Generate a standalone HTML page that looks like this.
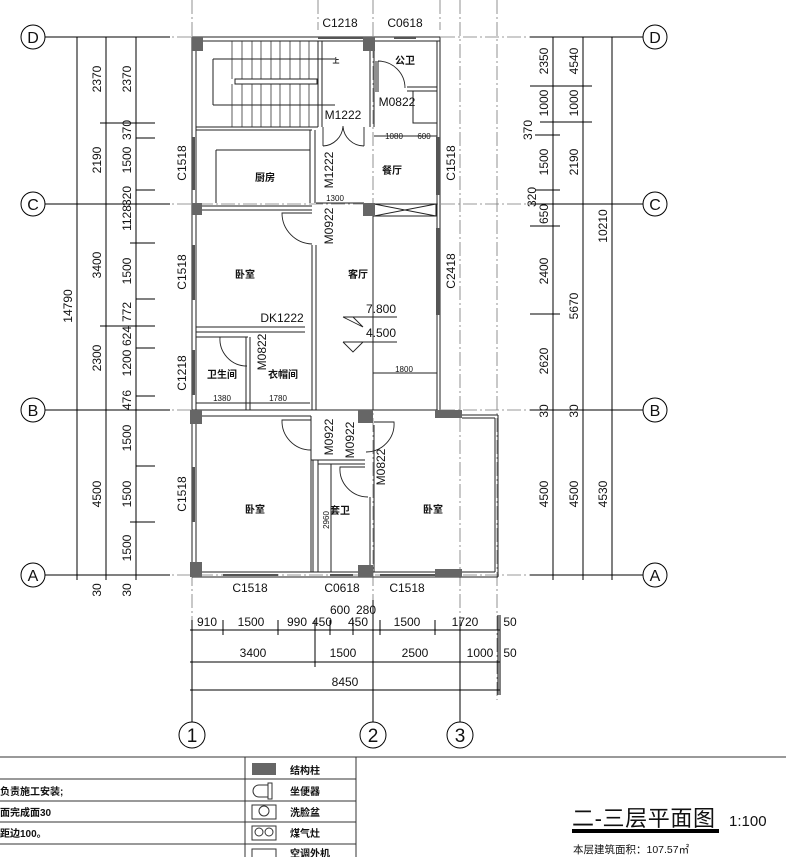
<!DOCTYPE html>
<html><head><meta charset="utf-8"><style>
html,body{margin:0;padding:0;background:#fff;}
svg{display:block;}
text{font-family:"Liberation Sans","Noto Sans CJK SC",sans-serif;fill:#111;}
.d{font-size:12px;}
.s{font-size:8px;}
.r{font-size:10px;font-weight:bold;}
</style></head><body>
<svg width="786" height="857" viewBox="0 0 786 857" xmlns="http://www.w3.org/2000/svg">
<g stroke="#777" stroke-width="0.8" stroke-dasharray="14,3,2,3" fill="none">
<line x1="45" y1="37" x2="643" y2="37"/><line x1="45" y1="204" x2="643" y2="204"/>
<line x1="45" y1="410" x2="643" y2="410"/><line x1="45" y1="575" x2="643" y2="575"/>
<line x1="192" y1="0" x2="192" y2="722"/><line x1="373" y1="0" x2="373" y2="722"/>
<line x1="460" y1="0" x2="460" y2="722"/><line x1="497" y1="0" x2="497" y2="700"/>
<line x1="318" y1="0" x2="318" y2="30"/><line x1="440" y1="0" x2="440" y2="30"/>
</g>
<g stroke="#000" stroke-width="1" fill="none">
<line x1="45" y1="37" x2="170" y2="37"/><line x1="45" y1="204" x2="170" y2="204"/>
<line x1="45" y1="410" x2="170" y2="410"/><line x1="45" y1="575" x2="170" y2="575"/>
<line x1="530" y1="37" x2="643" y2="37"/><line x1="530" y1="204" x2="643" y2="204"/>
<line x1="530" y1="410" x2="643" y2="410"/><line x1="530" y1="575" x2="643" y2="575"/>
<line x1="192" y1="620" x2="192" y2="722"/><line x1="373" y1="600" x2="373" y2="722"/><line x1="460" y1="620" x2="460" y2="722"/>
<circle cx="33" cy="37" r="12"/><circle cx="33" cy="204" r="12"/><circle cx="33" cy="410" r="12"/><circle cx="33" cy="575" r="12"/>
<circle cx="655" cy="37" r="12"/><circle cx="655" cy="204" r="12"/><circle cx="655" cy="410" r="12"/><circle cx="655" cy="575" r="12"/>
<circle cx="192" cy="735" r="13"/><circle cx="373" cy="735" r="13"/><circle cx="460" cy="735" r="13"/>
<!-- left dim lines -->
<line x1="77" y1="37" x2="77" y2="580"/><line x1="106" y1="37" x2="106" y2="580"/><line x1="136" y1="37" x2="136" y2="580"/>
<line x1="100" y1="123" x2="155" y2="123"/><line x1="136" y1="138" x2="155" y2="138"/><line x1="136" y1="190" x2="155" y2="190"/>
<line x1="130" y1="243" x2="155" y2="243"/><line x1="136" y1="299" x2="155" y2="299"/><line x1="100" y1="326" x2="155" y2="326"/>
<line x1="136" y1="348" x2="155" y2="348"/><line x1="136" y1="396" x2="155" y2="396"/><line x1="136" y1="466" x2="155" y2="466"/><line x1="130" y1="522" x2="155" y2="522"/>
<!-- right dim lines -->
<line x1="553" y1="37" x2="553" y2="580"/><line x1="583" y1="37" x2="583" y2="580"/><line x1="612" y1="37" x2="612" y2="580"/>
<line x1="530" y1="86" x2="592" y2="86"/><line x1="540" y1="122" x2="592" y2="122"/><line x1="535" y1="135" x2="560" y2="135"/>
<line x1="535" y1="190" x2="560" y2="190"/><line x1="530" y1="226" x2="560" y2="226"/><line x1="530" y1="314" x2="560" y2="314"/>
<!-- bottom dim lines -->
<line x1="190" y1="630" x2="500" y2="630"/><line x1="190" y1="662" x2="500" y2="662"/><line x1="190" y1="690" x2="500" y2="690"/>
<line x1="223" y1="620" x2="223" y2="635"/><line x1="278" y1="620" x2="278" y2="635"/><line x1="315" y1="620" x2="315" y2="667"/>
<line x1="330" y1="620" x2="330" y2="635"/><line x1="353" y1="620" x2="353" y2="635"/><line x1="380" y1="620" x2="380" y2="635"/>
<line x1="435" y1="620" x2="435" y2="635"/><line x1="498" y1="615" x2="498" y2="695"/><line x1="500" y1="615" x2="500" y2="695"/>
</g>
<g font-size="16" text-anchor="middle">
<text x="33" y="43">D</text><text x="33" y="210">C</text><text x="33" y="416">B</text><text x="33" y="581">A</text>
<text x="655" y="43">D</text><text x="655" y="210">C</text><text x="655" y="416">B</text><text x="655" y="581">A</text>
<text x="192" y="742" font-size="19">1</text><text x="373" y="742" font-size="19">2</text><text x="460" y="742" font-size="19">3</text>
</g>
<!-- rotated dims -->
<g class="d" text-anchor="middle">
<text transform="translate(72,306) rotate(-90)">14790</text>
<text transform="translate(101,79) rotate(-90)">2370</text><text transform="translate(101,160) rotate(-90)">2190</text>
<text transform="translate(101,265) rotate(-90)">3400</text><text transform="translate(101,358) rotate(-90)">2300</text>
<text transform="translate(101,494) rotate(-90)">4500</text><text transform="translate(101,590) rotate(-90)">30</text>
<text transform="translate(131,79) rotate(-90)">2370</text><text transform="translate(131,130) rotate(-90)">370</text>
<text transform="translate(131,160) rotate(-90)">1500</text><text transform="translate(131,196) rotate(-90)">320</text>
<text transform="translate(131,218) rotate(-90)">1128</text><text transform="translate(131,271) rotate(-90)">1500</text>
<text transform="translate(131,312) rotate(-90)">772</text><text transform="translate(131,336) rotate(-90)">624</text>
<text transform="translate(131,363) rotate(-90)">1200</text><text transform="translate(131,400) rotate(-90)">476</text>
<text transform="translate(131,438) rotate(-90)">1500</text><text transform="translate(131,494) rotate(-90)">1500</text>
<text transform="translate(131,548) rotate(-90)">1500</text><text transform="translate(131,590) rotate(-90)">30</text>
<text transform="translate(548,61) rotate(-90)">2350</text><text transform="translate(548,103) rotate(-90)">1000</text>
<text transform="translate(532,130) rotate(-90)">370</text><text transform="translate(548,162) rotate(-90)">1500</text>
<text transform="translate(536,197) rotate(-90)">320</text><text transform="translate(548,214) rotate(-90)">650</text>
<text transform="translate(548,271) rotate(-90)">2400</text><text transform="translate(548,361) rotate(-90)">2620</text>
<text transform="translate(548,411) rotate(-90)">30</text><text transform="translate(548,494) rotate(-90)">4500</text>
<text transform="translate(578,61) rotate(-90)">4540</text><text transform="translate(578,103) rotate(-90)">1000</text>
<text transform="translate(578,162) rotate(-90)">2190</text><text transform="translate(578,306) rotate(-90)">5670</text>
<text transform="translate(578,411) rotate(-90)">30</text><text transform="translate(578,494) rotate(-90)">4500</text>
<text transform="translate(607,226) rotate(-90)">10210</text><text transform="translate(607,494) rotate(-90)">4530</text>
<text transform="translate(186,163) rotate(-90)">C1518</text><text transform="translate(186,272) rotate(-90)">C1518</text>
<text transform="translate(186,373) rotate(-90)">C1218</text><text transform="translate(186,494) rotate(-90)">C1518</text>
<text transform="translate(455,163) rotate(-90)">C1518</text><text transform="translate(455,271) rotate(-90)">C2418</text>
<text transform="translate(333,170) rotate(-90)">M1222</text><text transform="translate(333,226) rotate(-90)">M0922</text>
<text transform="translate(266,352) rotate(-90)">M0822</text><text transform="translate(333,437) rotate(-90)">M0922</text>
<text transform="translate(354,440) rotate(-90)">M0922</text><text transform="translate(385,467) rotate(-90)">M0822</text>
<!-- horizontal -->
<text x="340" y="27">C1218</text><text x="405" y="27">C0618</text>
<text x="343" y="119">M1222</text><text x="397" y="106">M0822</text><text x="282" y="322">DK1222</text>
<text x="381" y="313">7.800</text><text x="381" y="337">4.500</text>
<text x="250" y="592">C1518</text><text x="342" y="592">C0618</text><text x="407" y="592">C1518</text>
<text x="207" y="626">910</text><text x="251" y="626">1500</text><text x="297" y="626">990</text><text x="322" y="626">450</text>
<text x="340" y="614">600</text><text x="366" y="614">280</text><text x="358" y="626">450</text>
<text x="407" y="626">1500</text><text x="465" y="626">1720</text><text x="510" y="626">50</text>
<text x="253" y="657">3400</text><text x="343" y="657">1500</text><text x="415" y="657">2500</text><text x="480" y="657">1000</text><text x="510" y="657">50</text>
<text x="345" y="686">8450</text>
</g>
<g class="s" text-anchor="middle">
<text x="394" y="139">1080</text><text x="424" y="139">600</text><text x="335" y="201">1300</text>
<text x="404" y="372">1800</text><text x="222" y="401">1380</text><text x="278" y="401">1780</text>
<text transform="translate(329,520) rotate(-90)">2960</text>
</g>
<g class="r" text-anchor="middle">
<text x="405" y="64">公卫</text><text x="392" y="174">餐厅</text><text x="265" y="181">厨房</text>
<text x="245" y="278">卧室</text><text x="358" y="278">客厅</text><text x="222" y="378">卫生间</text><text x="283" y="378">衣帽间</text>
<text x="255" y="513">卧室</text><text x="340" y="514">套卫</text><text x="433" y="513">卧室</text>
<text x="336" y="63" font-size="7">上</text>
</g>
<!-- walls -->
<g stroke="#222" stroke-width="1" fill="none">
<rect x="192" y="37" width="248" height="4"/>
<line x1="192" y1="37" x2="192" y2="577"/><line x1="196" y1="41" x2="196" y2="572"/>
<line x1="437" y1="41" x2="437" y2="410"/><line x1="440" y1="37" x2="440" y2="410"/>
<line x1="196" y1="127" x2="318" y2="127"/><line x1="196" y1="130" x2="312" y2="130"/>
<line x1="318" y1="41" x2="318" y2="127"/><line x1="322" y1="41" x2="322" y2="127"/>
<line x1="370" y1="51" x2="370" y2="127"/><line x1="374" y1="51" x2="374" y2="127"/>
<line x1="216" y1="150" x2="310" y2="150"/><line x1="216" y1="150" x2="216" y2="203"/>
<line x1="310" y1="130" x2="310" y2="203"/><line x1="315" y1="130" x2="315" y2="203"/>
<line x1="407" y1="87" x2="437" y2="87"/><line x1="407" y1="91" x2="413" y2="91"/>
<rect x="413" y="91" width="24" height="32"/>
<line x1="376" y1="61" x2="376" y2="92"/><line x1="378" y1="61" x2="378" y2="92"/>
<line x1="196" y1="206" x2="312" y2="206"/><line x1="196" y1="210" x2="312" y2="210"/>
<line x1="312" y1="245" x2="312" y2="410"/><line x1="316" y1="245" x2="316" y2="410"/>
<line x1="196" y1="327" x2="305" y2="327"/><line x1="196" y1="332" x2="305" y2="332"/>
<line x1="196" y1="337" x2="248" y2="337"/><line x1="246" y1="337" x2="246" y2="410"/><line x1="250" y1="337" x2="250" y2="410"/>
<rect x="374" y="204" width="62" height="12"/><line x1="374" y1="204" x2="436" y2="216"/><line x1="374" y1="216" x2="436" y2="204"/>
<line x1="373" y1="216" x2="373" y2="410"/>
<line x1="192" y1="410" x2="437" y2="410"/><line x1="196" y1="416" x2="311" y2="416"/>
<line x1="437" y1="415" x2="498" y2="415"/><line x1="462" y1="418" x2="495" y2="418"/>
<line x1="495" y1="418" x2="495" y2="572"/><line x1="498" y1="415" x2="498" y2="577"/>
<line x1="192" y1="577" x2="498" y2="577"/><line x1="196" y1="572" x2="495" y2="572"/>
<line x1="311" y1="416" x2="311" y2="572"/><line x1="313" y1="460" x2="313" y2="572"/><line x1="318" y1="460" x2="318" y2="572"/>
<line x1="311" y1="460" x2="365" y2="460"/><line x1="318" y1="464" x2="365" y2="464"/>
<line x1="370" y1="497" x2="370" y2="572"/><line x1="374" y1="425" x2="374" y2="572"/>
<line x1="331" y1="464" x2="331" y2="572"/>
<!-- stair -->
<line x1="213" y1="59" x2="335" y2="59"/><line x1="213" y1="59" x2="213" y2="105"/><line x1="213" y1="105" x2="335" y2="105"/>
<rect x="235" y="79" width="82" height="5"/>
</g>
<g stroke="#333" stroke-width="0.8">
<line x1="232" y1="41" x2="232" y2="79"/><line x1="242" y1="41" x2="242" y2="79"/><line x1="252" y1="41" x2="252" y2="79"/>
<line x1="261" y1="41" x2="261" y2="79"/><line x1="271" y1="41" x2="271" y2="79"/><line x1="280" y1="41" x2="280" y2="79"/>
<line x1="290" y1="41" x2="290" y2="79"/><line x1="300" y1="41" x2="300" y2="79"/><line x1="309" y1="41" x2="309" y2="79"/>
<line x1="232" y1="84" x2="232" y2="127"/><line x1="242" y1="84" x2="242" y2="127"/><line x1="252" y1="84" x2="252" y2="127"/>
<line x1="261" y1="84" x2="261" y2="127"/><line x1="271" y1="84" x2="271" y2="127"/><line x1="280" y1="84" x2="280" y2="127"/>
<line x1="290" y1="84" x2="290" y2="127"/><line x1="300" y1="84" x2="300" y2="127"/><line x1="309" y1="84" x2="309" y2="127"/>
<!-- door arcs -->
</g>
<g stroke="#222" stroke-width="0.9" fill="none">
<path d="M323 146 L323 127 M323 146 A21 21 0 0 0 343 126 M364 146 L364 127 M364 146 A21 21 0 0 1 343 126"/>
<path d="M378 61 L378 90 M378 61 A27 27 0 0 1 405 88"/>
<path d="M312 213 L282 213 A31 31 0 0 0 312 244"/>
<path d="M247 337 L220 337 A27 27 0 0 0 247 366"/>
<path d="M311 420 L282 420 A29 29 0 0 0 311 450"/>
<path d="M374 422 L394 422 A28 28 0 0 1 366 452"/>
<path d="M365 467 L340 467 A28 28 0 0 0 368 497"/>
<path d="M343 317 L363 327 L353 317 M343 342 L353 352 L363 342" />
<line x1="343" y1="317" x2="397" y2="317"/><line x1="343" y1="342" x2="397" y2="342"/>
<line x1="374" y1="136" x2="437" y2="136"/><line x1="316" y1="203" x2="364" y2="203"/>
<line x1="373" y1="373" x2="437" y2="373"/><line x1="196" y1="403" x2="310" y2="403"/>
<line x1="331" y1="470" x2="331" y2="570"/>
</g>
<!-- windows -->
<g fill="#555">
<rect x="192" y="137" width="3" height="53"/><rect x="192" y="245" width="3" height="55"/>
<rect x="192" y="350" width="3" height="45"/><rect x="192" y="467" width="3" height="55"/>
<rect x="436" y="137" width="4" height="58"/><rect x="436" y="228" width="4" height="87"/>
<rect x="318" y="37" width="46" height="2"/><rect x="394" y="37" width="22" height="2"/>
<rect x="223" y="574" width="55" height="2"/><rect x="330" y="574" width="23" height="2"/><rect x="380" y="574" width="55" height="2"/>
</g>
<!-- columns -->
<g fill="#666">
<rect x="192" y="37" width="11" height="14"/><rect x="363" y="37" width="12" height="14"/>
<rect x="192" y="203" width="10" height="12"/><rect x="363" y="203" width="12" height="13"/>
<rect x="190" y="410" width="12" height="14"/><rect x="358" y="410" width="15" height="13"/><rect x="435" y="410" width="27" height="8"/>
<rect x="190" y="562" width="12" height="15"/><rect x="358" y="565" width="15" height="12"/><rect x="435" y="569" width="27" height="8"/>
</g>
<!-- legend -->
<g stroke="#333" stroke-width="1" fill="none">
<line x1="0" y1="757" x2="786" y2="757"/>
<line x1="0" y1="779" x2="356" y2="779"/><line x1="0" y1="801" x2="356" y2="801"/>
<line x1="0" y1="822" x2="356" y2="822"/><line x1="0" y1="844" x2="356" y2="844"/>
<line x1="245" y1="757" x2="245" y2="857"/><line x1="356" y1="757" x2="356" y2="857"/>
<path d="M268 785 L259 785 A6 6 0 0 0 259 797 L268 797 Z"/><rect x="268" y="783" width="4" height="16"/>
<rect x="252" y="805" width="24" height="14"/><circle cx="264" cy="811" r="5"/>
<rect x="252" y="826" width="24" height="14"/><circle cx="259" cy="832" r="4"/><circle cx="269" cy="832" r="4"/>
<rect x="252" y="849" width="24" height="10"/>
</g>
<rect x="252" y="763" width="24" height="12" fill="#666"/>
<g font-size="10" font-weight="bold">
<text x="290" y="774">结构柱</text><text x="290" y="795">坐便器</text><text x="290" y="816">洗脸盆</text>
<text x="290" y="837">煤气灶</text><text x="290" y="857">空调外机</text>
<text x="0" y="795">负责施工安装;</text><text x="0" y="816">面完成面30</text><text x="0" y="837">距边100。</text>
</g>
<text x="572" y="826" font-size="22" textLength="143">二-三层平面图</text>
<rect x="572" y="829" width="147" height="4" fill="#000"/>
<text x="729" y="826" font-size="15">1:100</text>
<text x="573" y="853" font-size="10.5">本层建筑面积：107.57㎡</text>
</svg>
</body></html>
